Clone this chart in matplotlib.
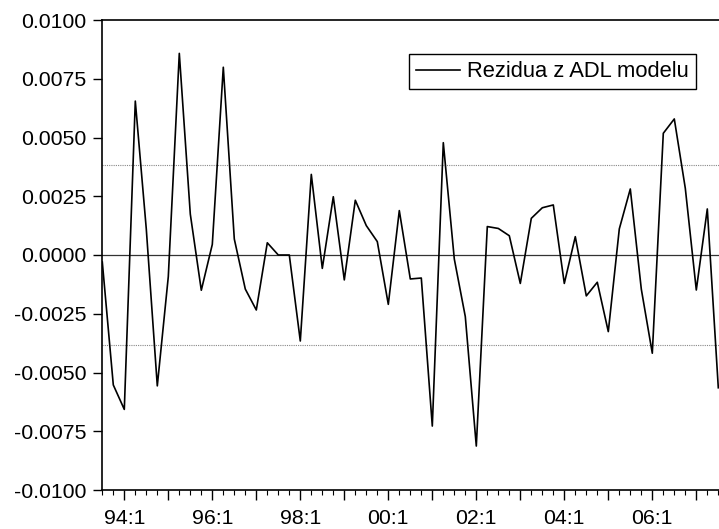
import matplotlib
matplotlib.use("Agg")
import matplotlib.pyplot as plt
import numpy as np

plt.rcParams['font.family'] = ['Liberation Sans', 'DejaVu Sans']

# quarterly residuals, 93:3 .. 07:3
quarters = ["93:3", "93:4"] + [f"{y % 100:02d}:{q}" for y in range(1994, 2007) for q in range(1, 5)] + ["07:1", "07:2", "07:3"]
rezidua = [
    -0.0003, -0.00553, -0.00657, 0.00655, 0.00110, -0.00557, -0.00092, 0.00858,
    0.00174, -0.00150, 0.00045, 0.00799, 0.00068, -0.00145, -0.00234, 0.00052,
    0.00000, 0.00000, -0.00366, 0.00343, -0.00057, 0.00248, -0.00106, 0.00233,
    0.00125, 0.00057, -0.00210, 0.00189, -0.00102, -0.00098, -0.00728, 0.00478,
    -0.00017, -0.00262, -0.00813, 0.00121, 0.00113, 0.00082, -0.00121, 0.00156,
    0.00201, 0.00213, -0.00121, 0.00078, -0.00174, -0.00116, -0.00326, 0.00111,
    0.00281, -0.00145, -0.00418, 0.00518, 0.00579, 0.00284, -0.00149, 0.00196,
    -0.00565,
]
pasmo = 0.00385
yticks = [-0.0100, -0.0075, -0.0050, -0.0025, 0.0000, 0.0025, 0.0050, 0.0075, 0.0100]

W, H = 719, 529
fig = plt.figure(figsize=(W / 100, H / 100), dpi=100)
# right edge of the plot runs past the image, as in the original
ax = fig.add_axes([102.3 / W, 39 / H, 11 * 57 / W, 470 / H])

x = np.arange(len(rezidua))
ax.axhline(0, color='#333333', lw=0.9, zorder=1)
ax.axhline(pasmo, color='#888888', lw=0.8, ls=(0, (1, 1)), zorder=1)
ax.axhline(-pasmo, color='#888888', lw=0.8, ls=(0, (1, 1)), zorder=1)
ax.plot(x, rezidua, color='black', lw=1.2, label='Rezidua z ADL modelu', zorder=2)

ax.set_xlim(0, 57)
ax.set_ylim(-0.01, 0.01)
ax.set_yticks(yticks)
ax.set_yticklabels([f"{v:.4f}" for v in yticks])

major = [i for i, q in enumerate(quarters) if q.endswith(":1")]
ax.set_xticks(major)
ax.set_xticklabels([q if int(q[:2]) % 2 == 0 else "" for q in (quarters[i] for i in major)])
ax.set_xticks(x, minor=True)

ax.tick_params(axis='both', labelsize=15.3, direction='out', width=1, color='black')
ax.tick_params(axis='y', length=6.5, pad=5)
ax.tick_params(axis='x', which='major', length=7, pad=7)
ax.tick_params(axis='x', which='minor', length=3.6, width=0.8)
for s in ['left', 'bottom', 'top']:
    ax.spines[s].set_linewidth(1.2)
ax.spines['right'].set_visible(False)

leg = ax.legend(loc='upper left', bbox_to_anchor=(409 / W, 1 - 54 / H),
                bbox_transform=fig.transFigure, borderaxespad=0, fontsize=15.8,
                frameon=True, fancybox=False, edgecolor='black', framealpha=1,
                handlelength=2.0, handletextpad=0.32, borderpad=0.33)
leg.get_frame().set_linewidth(1.0)

fig.savefig('out.png', dpi=100)
